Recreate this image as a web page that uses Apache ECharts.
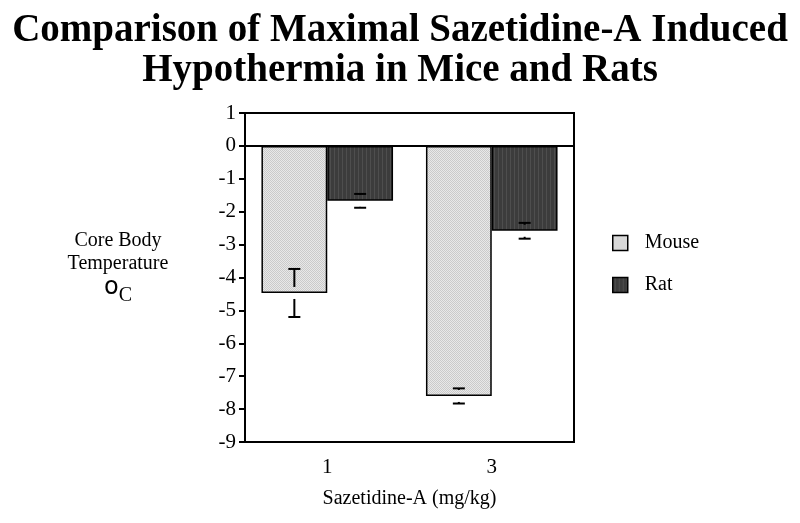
<!DOCTYPE html>
<html>
<head>
<meta charset="utf-8">
<script src="https://cdn.jsdelivr.net/npm/echarts@6/dist/echarts.min.js"></script>
<style>
html, body { margin: 0; padding: 0; background: #fff; }
#main { width: 800px; height: 523px; }
</style>
</head>
<body>
<div id="main"></div>
<script>
var doses = ['1', '3'];
var mouseMean = [-4.47, -7.6];
var mouseSE = [0.73, 0.23];
var ratMean = [-1.67, -2.58];
var ratSE = [0.21, 0.24];

// fill patterns
function makePattern(w, h, draw) {
	var c = document.createElement('canvas');
	c.width = w; c.height = h;
	draw(c.getContext('2d'));
	return { image: c, repeat: 'repeat' };
}
var mouseFill = makePattern(2, 2, function (ctx) {
	ctx.fillStyle = '#e8e8e8'; ctx.fillRect(0, 0, 2, 2);
	ctx.fillStyle = '#cacaca'; ctx.fillRect(0, 0, 1, 1); ctx.fillRect(1, 1, 1, 1);
});
var ratFill = makePattern(8, 4, function (ctx) {
	ctx.fillStyle = '#3c3c3c'; ctx.fillRect(0, 0, 8, 4);
	ctx.fillStyle = '#4e4e4e'; ctx.fillRect(2, 0, 1, 4); ctx.fillRect(6, 0, 1, 4);
});

var font = 'Liberation Serif';

function errData(mean, se) {
	return mean.map(function (m, i) { return [i, m, se[i]]; });
}

function errRender(side) {
	return function (params, api) {
		var i = api.value(0), m = api.value(1), s = api.value(2);
		var band = api.size([1, 0])[0];
		var c = api.coord([i, m]);
		var x = c[0] + side * band * 0.2;
		var yTop = api.coord([i, m + s])[1];
		var yBot = api.coord([i, m - s])[1];
		var gap = 6, cap = 6;
		var st = { stroke: '#000', lineWidth: 2 };
		var kids = [
			{ type: 'line', shape: { x1: x - cap, y1: yTop, x2: x + cap, y2: yTop }, style: st },
			{ type: 'line', shape: { x1: x - cap, y1: yBot, x2: x + cap, y2: yBot }, style: st }
		];
		if (c[1] - gap > yTop) kids.push({ type: 'line', shape: { x1: x, y1: yTop, x2: x, y2: c[1] - gap }, style: st });
		if (c[1] + gap < yBot) kids.push({ type: 'line', shape: { x1: x, y1: c[1] + gap, x2: x, y2: yBot }, style: st });
		return { type: 'group', children: kids };
	};
}

var chart = echarts.init(document.getElementById('main'));

option = {
	backgroundColor: '#fff',
	animation: false,
	title: {
		text: 'Comparison of Maximal Sazetidine-A Induced\nHypothermia in Mice and Rats',
		left: 'center',
		top: 6,
		textStyle: { fontFamily: font, fontWeight: 'bold', fontSize: 39, lineHeight: 40, color: '#000' }
	},
	legend: {
		orient: 'vertical',
		left: 607,
		top: 228,
		icon: 'rect',
		itemWidth: 15,
		itemHeight: 15,
		itemGap: 22,
		data: ['Mouse', 'Rat'],
		textStyle: { fontFamily: font, fontSize: 20, color: '#000', padding: [0, 0, 0, 12] },
		itemStyle: { borderColor: '#000', borderWidth: 1.5 }
	},
	grid: {
		left: 245, right: 226, top: 113, bottom: 81,
		show: true, borderColor: '#000', borderWidth: 2
	},
	xAxis: {
		type: 'category',
		data: doses,
		name: 'Sazetidine-A (mg/kg)',
		nameLocation: 'middle',
		nameGap: 47,
		nameTextStyle: { fontFamily: font, fontSize: 20, color: '#000' },
		axisLine: { lineStyle: { color: '#000', width: 2 } },
		axisTick: { alignWithLabel: true, length: 6, lineStyle: { color: '#000', width: 2 } },
		axisLabel: { fontFamily: font, fontSize: 21, color: '#000', margin: 15 }
	},
	yAxis: {
		type: 'value',
		min: -9, max: 1, interval: 1,
		name: '{t|Core Body\nTemperature}\n{d|o}{c|C}',
		nameLocation: 'middle',
		nameRotate: 0,
		nameGap: 127,
		nameTextStyle: {
			align: 'center',
			padding: [0, 0, 20, 0],
			rich: {
				t: { fontFamily: font, fontSize: 20, lineHeight: 23, color: '#000', align: 'center' },
				d: { fontFamily: 'DejaVu Sans', fontSize: 24, color: '#000', verticalAlign: 'top', lineHeight: 30 },
				c: { fontFamily: font, fontSize: 20, color: '#000', verticalAlign: 'bottom', lineHeight: 30 }
			}
		},
		splitLine: { show: false },
		axisLine: { show: true, lineStyle: { color: '#000', width: 2 } },
		axisTick: { show: true, length: 6, lineStyle: { color: '#000', width: 2 } },
		axisLabel: { fontFamily: font, fontSize: 21, color: '#000', margin: 9 }
	},
	series: [
		{
			name: 'Mouse',
			type: 'bar',
			data: mouseMean,
			barGap: '0%',
			barCategoryGap: '20%',
			itemStyle: { color: mouseFill, borderColor: '#000', borderWidth: 1.5 },
			markLine: {
				silent: true, symbol: 'none', label: { show: false },
				lineStyle: { color: '#000', width: 1.5, type: 'solid' },
				data: [{ yAxis: 0 }]
			},
			z: 2
		},
		{
			name: 'Rat',
			type: 'bar',
			data: ratMean,
			itemStyle: { color: ratFill, borderColor: '#000', borderWidth: 1.5 },
			z: 2
		},
		{
			type: 'custom',
			renderItem: errRender(-1),
			data: errData(mouseMean, mouseSE),
			z: 5
		},
		{
			type: 'custom',
			renderItem: errRender(1),
			data: errData(ratMean, ratSE),
			z: 5
		}
	]
};
chart.setOption(option);
</script>
</body>
</html>
